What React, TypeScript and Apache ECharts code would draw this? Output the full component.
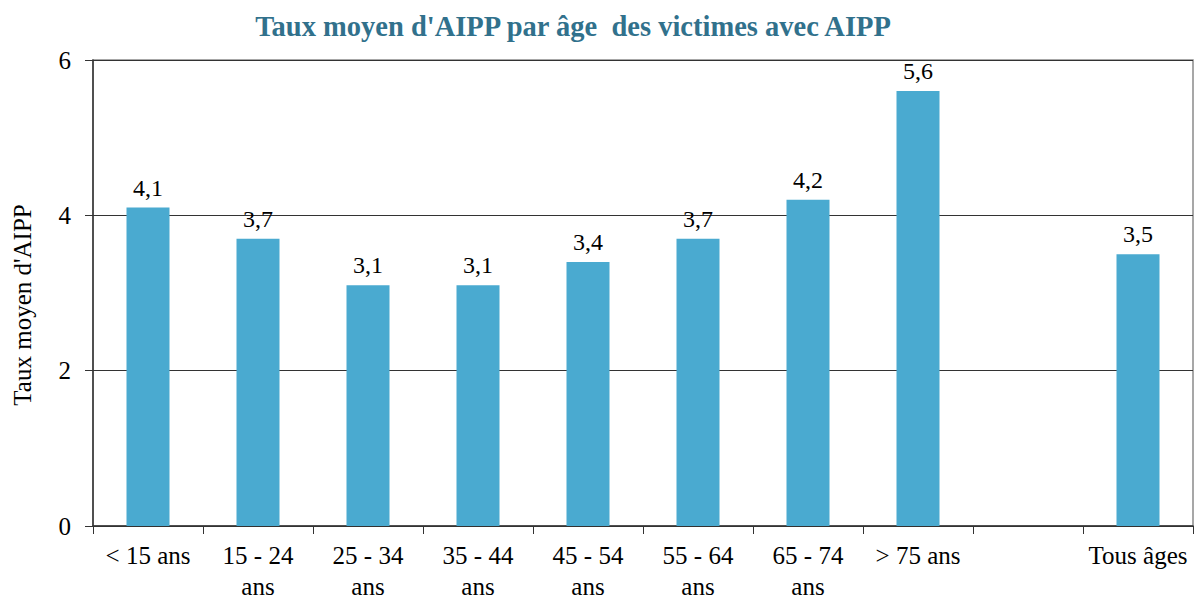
import React, { useEffect, useRef } from "react";
import * as echarts from "echarts";

const titleText = "Taux moyen d'AIPP par âge  des victimes avec AIPP";
const yAxisName = "Taux moyen d'AIPP";
const categories = [
  "< 15 ans",
  "15 - 24\nans",
  "25 - 34\nans",
  "35 - 44\nans",
  "45 - 54\nans",
  "55 - 64\nans",
  "65 - 74\nans",
  "> 75 ans",
  "",
  "Tous âges",
];
const values: (number | null)[] = [4.1, 3.7, 3.1, 3.1, 3.4, 3.7, 4.2, 5.6, null, 3.5];
const yTicks = { min: 0, max: 6, interval: 2 };

const FONT = "Liberation Serif";

export default function App() {
  const ref = useRef<HTMLDivElement>(null);
  useEffect(() => {
    document.body.style.margin = "0";
    if (!ref.current) return;
    const chart = echarts.init(ref.current, undefined, { renderer: "svg" });
    chart.setOption({
      animation: false,
      backgroundColor: "#ffffff",
      title: {
        text: titleText,
        left: 568,
        top: 7,
        textAlign: "center",
        textStyle: {
          fontFamily: FONT,
          fontWeight: "bold",
          fontSize: 28.5,
          color: "#31718C",
        },
      },
      grid: {
        left: 93,
        right: 2,
        top: 60,
        bottom: 73,
        show: true,
        borderColor: "#8a8a8a",
        borderWidth: 1.5,
        containLabel: false,
        outerBoundsMode: "none",
      },
      xAxis: {
        type: "category",
        data: categories,
        axisLine: { show: true, lineStyle: { color: "#333", width: 1.5 } },
        axisTick: { show: true, length: 8, lineStyle: { color: "#333" } },
        axisLabel: {
          interval: 0,
          margin: 14,
          fontFamily: FONT,
          fontSize: 25,
          lineHeight: 31,
          color: "#000",
        },
        splitLine: { show: false },
      },
      yAxis: {
        type: "value",
        min: yTicks.min,
        max: yTicks.max,
        interval: yTicks.interval,
        name: yAxisName,
        nameLocation: "middle",
        nameGap: 58,
        nameTextStyle: {
          fontFamily: FONT,
          fontSize: 25,
          color: "#000",
          padding: [0, 24, 0, 0],
        },
        axisLine: { show: true, lineStyle: { color: "#333", width: 1.5 } },
        axisTick: { show: true, length: 8, lineStyle: { color: "#333" } },
        axisLabel: {
          margin: 22,
          fontFamily: FONT,
          fontSize: 25,
          color: "#000",
        },
        splitLine: { show: true, lineStyle: { color: "#333", width: 1 } },
      },
      series: [
        {
          type: "bar",
          data: values,
          barWidth: 43,
          itemStyle: { color: "#4AAAD0" },
          label: {
            show: true,
            position: "top",
            distance: 8,
            fontFamily: FONT,
            fontSize: 24,
            color: "#000",
            formatter: (p: any) =>
              p.value == null ? "" : String(p.value).replace(".", ","),
          },
        },
      ],
    });
    return () => chart.dispose();
  }, []);
  return <div ref={ref} style={{ width: 1195, height: 599 }} />;
}
